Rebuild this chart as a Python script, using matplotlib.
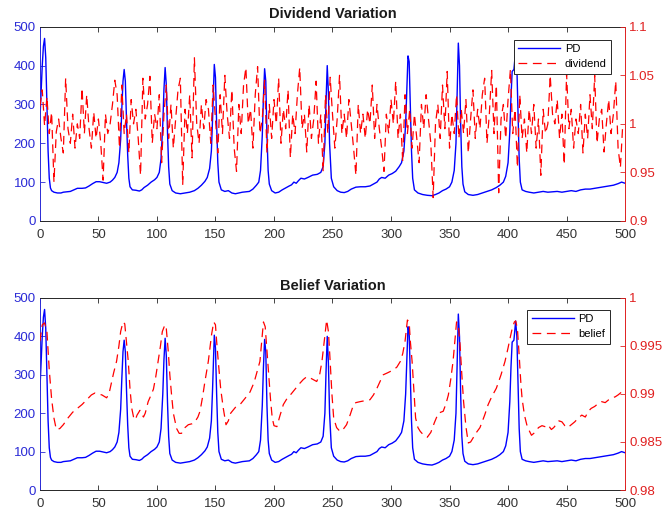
import numpy as np
import matplotlib
matplotlib.use("Agg")
import matplotlib.pyplot as plt

# ---------------- data ----------------
pd_t = [0, 1, 2, 3, 4, 5, 6, 7, 8, 9, 10, 12, 15, 18, 20, 23, 26, 29, 32, 36, 39, 42, 45, 48, 51, 54, 57, 60, 62, 64, 66, 67.5, 69, 70, 71, 72, 73, 74, 75, 76, 77, 79, 82, 85, 87, 89, 92, 95, 98, 100, 102, 103.5, 105, 106, 107, 108, 109, 110, 111, 113, 116, 120, 124, 128, 132, 135, 138, 141, 143, 145, 146.5, 147.5, 148.5, 149, 150, 151, 152, 153, 155, 158, 161, 164, 167, 170, 173, 176, 179, 182, 185, 187, 188.5, 190, 191, 192, 193, 194, 195, 196, 198, 201, 204, 207, 210, 213, 215, 217, 219, 221, 223, 226, 229, 233, 237, 240, 242, 243.5, 244.5, 245.5, 246.5, 247.5, 249, 251, 254, 257, 260, 263, 266, 270, 274, 278, 282, 285, 288, 290, 292, 295, 298, 301, 304, 307, 309, 311, 312.5, 313.5, 314.5, 315.5, 316.5, 317.5, 318.5, 320, 323, 327, 331, 335, 338, 341, 344, 347, 350, 352, 354, 355.5, 356.5, 357.5, 358.5, 359.5, 360.5, 361.5, 363, 366, 370, 374, 378, 382, 386, 390, 393, 396, 398, 400, 401.5, 402.5, 403.5, 405, 406.5, 407.5, 408.5, 409.5, 410.5, 412, 415, 418, 422, 426, 430, 434, 438, 442, 446, 450, 454, 458, 462, 466, 470, 474, 478, 482, 486, 490, 494, 497, 500]
pd_v = [260, 330, 400, 450, 470, 420, 300, 180, 110, 85, 78, 74, 72, 72, 74, 75, 76, 80, 84, 84, 85, 90, 96, 101, 101, 99, 97, 100, 105, 112, 125, 150, 210, 290, 360, 390, 360, 260, 170, 110, 88, 80, 79, 77, 80, 86, 92, 100, 106, 112, 125, 160, 250, 340, 395, 350, 230, 140, 95, 78, 72, 70, 72, 74, 78, 84, 92, 102, 112, 135, 180, 260, 360, 403, 370, 250, 150, 100, 80, 76, 78, 72, 70, 72, 74, 75, 76, 82, 92, 100, 130, 220, 320, 392, 360, 220, 130, 95, 78, 72, 74, 80, 85, 90, 93, 100, 97, 104, 110, 108, 112, 118, 120, 125, 140, 200, 310, 400, 330, 200, 110, 88, 78, 74, 73, 76, 82, 87, 88, 88, 90, 95, 100, 108, 112, 110, 118, 122, 128, 140, 150, 180, 250, 340, 425, 410, 300, 180, 110, 80, 72, 68, 66, 65, 68, 72, 78, 82, 88, 100, 130, 200, 330, 458, 400, 250, 140, 95, 75, 68, 66, 68, 72, 76, 80, 86, 92, 100, 115, 150, 230, 320, 385, 390, 440, 400, 280, 160, 100, 80, 76, 74, 72, 74, 76, 74, 75, 76, 74, 76, 78, 76, 80, 82, 82, 84, 86, 88, 90, 92, 96, 100, 97]

belief_t = [0, 2, 4, 6, 8, 10, 12, 14, 17, 20, 24, 28, 32, 36, 40, 44, 47, 50, 53, 57, 59, 61, 63, 65.5, 67.5, 69, 71, 72.5, 73.5, 75.5, 77, 78.5, 80, 81.5, 83, 85.5, 87, 88.5, 90, 92.5, 95, 97, 99, 101, 103, 104.6, 106.8, 108, 109.7, 111, 112.5, 114, 116.8, 119, 121, 123, 126.8, 130, 132.5, 135, 136.8, 139, 141, 143.9, 146.7, 148.5, 150, 151, 152.4, 154.5, 156.7, 159, 161, 163, 167, 171, 175, 179.5, 183, 186, 188, 189.5, 191, 192.5, 194, 195.5, 197, 198.5, 200, 202.5, 205, 208, 211, 214, 218, 222, 225, 228, 232, 236.5, 239, 241, 243, 245, 246.5, 248, 249.5, 251, 253.5, 256.4, 259, 262, 265, 268, 270, 273.5, 278, 282, 285, 288, 291, 293.4, 297, 302, 305, 308, 310, 312, 314, 315.5, 316.5, 318, 319.5, 321, 323, 325, 328, 331, 334, 337, 340.4, 344.6, 347, 349, 351, 353, 354.5, 356, 357.5, 359, 360.5, 362, 364, 366, 368, 370, 373, 376, 380, 383, 386, 390, 394, 397.4, 400, 401.7, 403.5, 405.4, 406.5, 408, 409.5, 411, 412, 414, 416, 418, 420, 423, 426, 429, 431.5, 434, 437, 439, 441, 443.5, 446, 448.5, 451, 454, 457, 460, 463, 466, 468.6, 471, 474, 477, 480, 483, 486, 489, 491.5, 494, 497, 500]
belief_v = [0.9955, 0.9972, 0.9974, 0.9965, 0.9925, 0.9895, 0.9875, 0.9863, 0.9864, 0.9868, 0.9875, 0.9881, 0.9885, 0.9889, 0.9894, 0.9899, 0.9901, 0.9900, 0.9899, 0.9896, 0.9900, 0.9911, 0.9922, 0.9934, 0.9950, 0.9965, 0.9975, 0.9973, 0.9960, 0.9934, 0.9905, 0.9885, 0.9876, 0.9873, 0.9878, 0.9883, 0.9879, 0.9876, 0.9880, 0.9892, 0.9899, 0.9905, 0.9918, 0.9934, 0.9950, 0.9965, 0.9972, 0.9968, 0.9944, 0.9920, 0.9899, 0.9880, 0.9864, 0.9859, 0.9859, 0.9864, 0.9868, 0.9869, 0.9871, 0.9876, 0.9882, 0.9897, 0.9913, 0.9934, 0.9962, 0.9975, 0.9972, 0.9955, 0.9934, 0.9905, 0.9885, 0.9868, 0.9872, 0.9880, 0.9886, 0.9889, 0.9895, 0.9902, 0.9912, 0.9925, 0.9934, 0.9955, 0.9975, 0.9970, 0.9945, 0.9920, 0.9895, 0.9875, 0.9867, 0.9866, 0.9877, 0.9889, 0.9895, 0.9899, 0.9905, 0.9911, 0.9915, 0.9918, 0.9916, 0.9913, 0.9920, 0.9934, 0.9955, 0.9977, 0.9965, 0.9934, 0.9900, 0.9875, 0.9865, 0.9861, 0.9863, 0.9868, 0.9878, 0.9889, 0.9891, 0.9892, 0.9893, 0.9894, 0.9899, 0.9906, 0.9914, 0.9920, 0.9922, 0.9925, 0.9928, 0.9934, 0.9942, 0.9955, 0.9977, 0.9975, 0.9955, 0.9934, 0.9905, 0.9875, 0.9865, 0.9861, 0.9857, 0.9855, 0.9860, 0.9870, 0.9880, 0.9882, 0.9890, 0.9899, 0.9915, 0.9934, 0.9955, 0.9975, 0.9972, 0.9951, 0.9920, 0.9892, 0.9866, 0.9849, 0.9850, 0.9854, 0.9860, 0.9865, 0.9878, 0.9889, 0.9897, 0.9906, 0.9920, 0.9934, 0.9948, 0.9958, 0.9968, 0.9975, 0.9976, 0.9968, 0.9940, 0.9910, 0.9895, 0.9878, 0.9868, 0.9862, 0.9857, 0.9860, 0.9865, 0.9867, 0.9866, 0.9868, 0.9863, 0.9865, 0.9868, 0.9872, 0.9871, 0.9867, 0.9865, 0.9868, 0.9871, 0.9875, 0.9878, 0.9876, 0.9882, 0.9885, 0.9887, 0.9890, 0.9892, 0.9891, 0.9894, 0.9896, 0.9897, 0.9899, 0.9902, 0.9903]

# dividend, one value every 2 periods (t = 0, 2, ..., 498), in thousandths
div_t = list(range(0, 500, 2))
div_milli = [
    1018, 1035, 998, 1028, 990, 1012, 940, 992, 1005, 985,
    970, 1047, 995, 980, 1010, 975, 1000, 985, 1037, 990,
    1030, 995, 975, 1012, 985, 1005, 980, 942, 1010, 990,
    1000, 1020, 1045, 1030, 975, 1040, 990, 1010, 970, 1025,
    1000, 1015, 985, 947, 1047, 1005, 1020, 1049, 980, 1010,
    995, 1030, 960, 1010, 1040, 985, 1020, 975, 1005, 1035,
    1047, 937, 1015, 990, 1030, 965, 1068, 1000, 980, 1020,
    995, 1025, 1015, 980, 1040, 1005, 970, 1030, 990, 1050,
    1010, 985, 1035, 975, 951, 1020, 990, 1040, 1058, 1000,
    1015, 975, 1030, 1059, 990, 1005, 1045, 970, 1020, 985,
    1025, 1000, 1047, 980, 1015, 995, 1035, 965, 1010, 990,
    1030, 1058, 995, 1010, 971, 1020, 985, 1005, 1044, 980,
    1010, 951, 1030, 990, 1048, 1010, 975, 1005, 1050, 990,
    1010, 985, 1025, 1000, 975, 947, 1020, 990, 1010, 985,
    1015, 1000, 1040, 985, 1020, 995, 975, 951, 1010, 990,
    1025, 1000, 1044, 985, 1010, 961, 1030, 990, 1015, 975,
    1010, 985, 960, 1020, 995, 1030, 1005, 980, 924, 1000,
    1020, 985, 1040, 995, 1054, 975, 1010, 990, 1030, 985,
    1015, 990, 1025, 970, 1005, 1035, 985, 1015, 995, 1030,
    1047, 980, 1010, 1055, 990, 1040, 929, 1005, 1020, 985,
    1025, 1056, 990, 1015, 955, 1030, 985, 1005, 970, 1015,
    990, 1020, 975, 1005, 947, 1015, 990, 1000, 1050, 1010,
    1000, 1025, 985, 1010, 958, 1052, 995, 1015, 975, 1005,
    990, 1020, 970, 1010, 985, 1030, 995, 1050, 980, 1005,
    1015, 971, 1000, 1025, 990, 1010, 1044, 975, 955, 1000,
]
div_v = np.array(div_milli) / 1000.0

x_ticks = list(range(0, 501, 50))
left_ticks = [0, 100, 200, 300, 400, 500]
div_ticks = [0.9, 0.95, 1.0, 1.05, 1.1]
div_ticklabels = ["0.9", "0.95", "1", "1.05", "1.1"]
bel_ticks = [0.98, 0.985, 0.99, 0.995, 1.0]
bel_ticklabels = ["0.98", "0.985", "0.99", "0.995", "1"]

# ---------------- style ----------------
plt.rcParams['font.family'] = ['Liberation Sans', 'DejaVu Sans']
BLUE = '#0000ff'
RED = '#ff0000'
LBLUE = '#2a2ad6'
LRED = '#e02020'
GRAY = '#262626'
FS = 9.5
DASH = (7, 4.5)

fig = plt.figure(figsize=(6.65, 5.15), dpi=100)
ax_top = fig.add_axes([0.060, 0.571, 0.880, 0.377])
ax_bot = fig.add_axes([0.060, 0.0485, 0.880, 0.373])


def style(ax, ax2, rticks, rlabels, rlim):
    ax.set_xlim(0, 500)
    ax.set_ylim(0, 500)
    ax.set_xticks(x_ticks)
    ax.set_yticks(left_ticks)
    ax.tick_params(axis='x', direction='in', top=True, bottom=True, length=3.5,
                   width=0.6, colors=GRAY, labelsize=FS, pad=6, labelcolor='#333333')
    ax.tick_params(axis='y', direction='in', left=True, right=False, length=3.5,
                   width=0.6, colors=LBLUE, labelsize=FS, pad=3)
    for s in ['top', 'bottom']:
        ax.spines[s].set_color(GRAY)
        ax.spines[s].set_linewidth(0.7)
    ax.spines['left'].set_color(LBLUE)
    ax.spines['left'].set_linewidth(0.7)
    ax.spines['right'].set_visible(False)
    ax2.set_ylim(*rlim)
    ax2.set_yticks(rticks)
    ax2.set_yticklabels(rlabels)
    ax2.tick_params(axis='y', direction='in', length=3.5, width=0.6, colors=LRED,
                    labelsize=FS, pad=3)
    for s in ['top', 'bottom', 'left']:
        ax2.spines[s].set_visible(False)
    ax2.spines['right'].set_color(LRED)
    ax2.spines['right'].set_linewidth(0.7)


def add_legend(ax2, handles, labels, anchor):
    leg = ax2.legend(handles, labels, loc='upper right', bbox_to_anchor=anchor,
                     borderaxespad=0, fontsize=8, handlelength=3.8,
                     fancybox=False, framealpha=1, edgecolor='#262626',
                     borderpad=0.4, labelspacing=0.45, handletextpad=0.4)
    leg.get_frame().set_linewidth(0.7)
    return leg


# top panel
ax_top2 = ax_top.twinx()
l1, = ax_top.plot(pd_t, pd_v, color=BLUE, lw=1.0, label='PD')
l2, = ax_top2.plot(div_t, div_v, color=RED, lw=0.9, dashes=DASH, label='dividend')
style(ax_top, ax_top2, div_ticks, div_ticklabels, (0.9, 1.1))
ax_top.set_title('Dividend Variation', fontsize=10.5, fontweight='bold', pad=6, color='#1a1a1a')
add_legend(ax_top2, [l1, l2], ['PD', 'dividend'], (0.976, 0.933))

# bottom panel
ax_bot2 = ax_bot.twinx()
m1, = ax_bot.plot(pd_t, pd_v, color=BLUE, lw=1.0, label='PD')
m2, = ax_bot2.plot(belief_t, belief_v, color=RED, lw=0.9, dashes=DASH, label='belief')
style(ax_bot, ax_bot2, bel_ticks, bel_ticklabels, (0.98, 1.0))
ax_bot.set_title('Belief Variation', fontsize=10.5, fontweight='bold', pad=6, color='#1a1a1a')
add_legend(ax_bot2, [m1, m2], ['PD', 'belief'], (0.974, 0.9375))

fig.savefig('out.png', dpi=100)
